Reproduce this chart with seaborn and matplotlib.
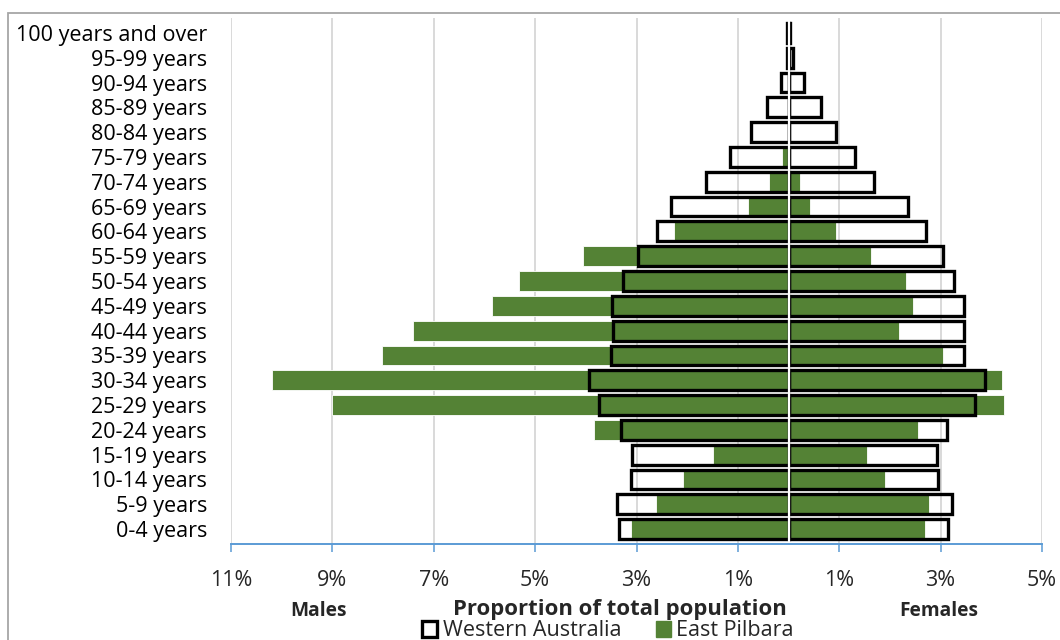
import matplotlib
matplotlib.use("Agg")
import matplotlib.pyplot as plt
import numpy as np
import pandas as pd
import seaborn as sns
from matplotlib.patches import Patch, Rectangle

# ---- data (top of chart to bottom) ----
age_groups = ["100 years and over", "95-99 years", "90-94 years", "85-89 years",
              "80-84 years", "75-79 years", "70-74 years", "65-69 years",
              "60-64 years", "55-59 years", "50-54 years", "45-49 years",
              "40-44 years", "35-39 years", "30-34 years", "25-29 years",
              "20-24 years", "15-19 years", "10-14 years", "5-9 years", "0-4 years"]
wa_males = [0.03, 0.04, 0.15, 0.43, 0.75, 1.16, 1.63, 2.32, 2.60, 2.98, 3.27, 3.49,
            3.47, 3.51, 3.94, 3.74, 3.31, 3.09, 3.11, 3.39, 3.34]
ep_males = [0, 0, 0, 0, 0, 0.13, 0.38, 0.81, 2.26, 4.06, 5.31, 5.86,
            7.40, 8.03, 10.2, 9.0, 3.84, 1.50, 2.09, 2.61, 3.10]
wa_females = [0.03, 0.08, 0.31, 0.64, 0.94, 1.31, 1.68, 2.35, 2.71, 3.04, 3.26, 3.46,
              3.46, 3.46, 3.87, 3.68, 3.13, 2.93, 2.95, 3.23, 3.15]
ep_females = [0, 0, 0, 0, 0, 0, 0.22, 0.42, 0.94, 1.63, 2.31, 2.45,
              2.17, 3.04, 4.22, 4.26, 2.55, 1.54, 1.91, 2.78, 2.69]
x_ticks = [-11, -9, -7, -5, -3, -1, 1, 3, 5]
x_tick_labels = ["11%", "9%", "7%", "5%", "3%", "1%", "1%", "3%", "5%"]
series_names = ["Western Australia", "East Pilbara"]

GREEN = "#548235"
FONT = "Open Sans"
FAM = [FONT, "DejaVu Sans"]

sns.set_theme(style="white")
plt.rcParams["font.family"] = FAM

W, H = 1060, 640
fig = plt.figure(figsize=(W / 100, H / 100), dpi=100)
ax = fig.add_axes([231 / W, 1 - 544 / H, (1042 - 231) / W, (544 - 18) / H])

df = pd.DataFrame({
    "age": age_groups,
    "wa_m": -np.array(wa_males), "ep_m": -np.array(ep_males),
    "wa_f": np.array(wa_females), "ep_f": np.array(ep_females),
})

# East Pilbara (green filled)
for col in ["ep_m", "ep_f"]:
    sns.barplot(data=df, x=col, y="age", orient="y", color=GREEN, width=0.8,
                edgecolor="white", linewidth=0.6, saturation=1, ax=ax, zorder=2)
# Western Australia (black outline)
for col in ["wa_m", "wa_f"]:
    sns.barplot(data=df, x=col, y="age", orient="y", fill=False, color="black",
                width=0.8, linewidth=2.4, saturation=1, ax=ax, zorder=3)

ax.axvline(0, color="white", lw=1.6, zorder=4)

ax.set_xlim(-11, 5)
ax.set_ylim(20.6, -0.6)
ax.set_xticks(x_ticks)
ax.set_xticklabels(x_tick_labels, fontsize=15.5, color="#262626", family=FAM)
ax.tick_params(axis="x", which="both", bottom=True, length=6, width=1.1,
               color="#5B9BD5", pad=13)
ax.tick_params(axis="y", length=0, pad=17.3, labelsize=15.5, labelcolor="#000000")
for lab in ax.get_yticklabels():
    lab.set_family(FAM)
ax.set_xlabel("")
ax.set_ylabel("")
for s in ["top", "right", "left"]:
    ax.spines[s].set_visible(False)
ax.spines["bottom"].set_color("#5B9BD5")
ax.spines["bottom"].set_linewidth(1.4)
ax.spines["bottom"].set_zorder(5)
ax.grid(axis="x", color="#D9D9D9", lw=1.4, zorder=0)
ax.set_axisbelow(True)

def fx(px):
    return px / W

def fy(py):
    return 1 - py / H

fig.text(fx(319), fy(611), "Males", ha="center", va="center", fontsize=13.8,
         fontweight="bold", family=FAM)
fig.text(fx(620), fy(610), "Proportion of total population", ha="center", va="center",
         fontsize=15.9, fontweight="bold", family=FAM)
fig.text(fx(939), fy(611), "Females", ha="center", va="center", fontsize=13.8,
         fontweight="bold", family=FAM)

handles = [Patch(facecolor="white", edgecolor="black", linewidth=2.4, label=series_names[0]),
           Patch(facecolor=GREEN, edgecolor=GREEN, label=series_names[1])]
fig.legend(handles=handles, loc="center", bbox_to_anchor=(fx(608), fy(631)), ncol=2,
           frameon=False, handlelength=0.7, handleheight=0.7,
           handletextpad=0.25, columnspacing=1.6, borderpad=0, borderaxespad=0,
           prop={"family": FAM, "size": 15.5})

fig.patches.append(Rectangle((fx(8), -0.1), 1.2, fy(13) + 0.1, transform=fig.transFigure,
                             fill=False, edgecolor="#A6A6A6", lw=1.3, zorder=0))

fig.savefig("out.png", dpi=100, facecolor="white")
